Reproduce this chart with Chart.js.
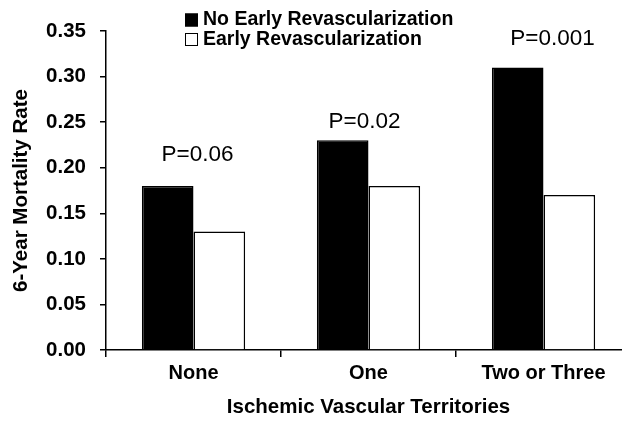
<!DOCTYPE html>
<html>
<head>
<meta charset="utf-8">
<script src="https://cdn.jsdelivr.net/npm/chart.js@4.4.0/dist/chart.umd.min.js"></script>
<style>
html, body { margin: 0; padding: 0; background: #fff; overflow: hidden; }
#wrap { width: 632px; height: 425px; }
</style>
</head>
<body>
<div id="wrap"><canvas id="myChart" width="632" height="425"></canvas></div>
<script>
// data
const categories = ["None", "One", "Two or Three"];
const seriesNames = ["No Early Revascularization", "Early Revascularization"];
const noEarlyRevasc = [0.18, 0.23, 0.31];
const earlyRevasc = [0.13, 0.18, 0.17];
const pValues = ["P=0.06", "P=0.02", "P=0.001"];
const yTicks = [0, 0.05, 0.10, 0.15, 0.20, 0.25, 0.30, 0.35];

const FONT = '"Liberation Sans", Arial, sans-serif';

// little legend stacked in the top of the plot, like the scanned figure
const boxLegend = {
    id: 'boxLegend',
    afterDraw(chart, args, opts) {
        const ctx = chart.ctx;
        ctx.save();
        ctx.font = opts.font;
        ctx.textBaseline = 'middle';
        ctx.textAlign = 'left';
        chart.data.datasets.forEach((ds, i) => {
            const y = opts.y + i * opts.rowGap;
            ctx.fillStyle = ds.backgroundColor;
            ctx.fillRect(opts.x, y - opts.box / 2, opts.box, opts.box);
            ctx.strokeStyle = '#000';
            ctx.lineWidth = 1;
            ctx.strokeRect(opts.x + 0.5, y - opts.box / 2 + 0.5, opts.box - 1, opts.box - 1);
            ctx.fillStyle = '#000';
            ctx.fillText(ds.label, opts.x + opts.box + opts.gap, y);
        });
        ctx.restore();
    }
};

// P value over each group
const pLabels = {
    id: 'pLabels',
    afterDatasetsDraw(chart, args, opts) {
        const ctx = chart.ctx;
        const m0 = chart.getDatasetMeta(0).data;
        const m1 = chart.getDatasetMeta(1).data;
        ctx.save();
        ctx.font = opts.font;
        ctx.fillStyle = '#000';
        ctx.textAlign = 'center';
        ctx.textBaseline = 'middle';
        pValues.forEach((txt, i) => {
            const cx = (m0[i].x + m1[i].x) / 2 + opts.dx[i];
            const top = Math.min(m0[i].y, m1[i].y);
            ctx.fillText(txt, cx, top + opts.dy[i]);
        });
        ctx.restore();
    }
};

const ctx = document.getElementById("myChart").getContext('2d');
const myChart = new Chart(ctx, {
    type: 'bar',
    data: {
        labels: categories,
        datasets: [{
            label: seriesNames[0],
            data: noEarlyRevasc,
            backgroundColor: '#000000',
            borderColor: '#000000',
            borderWidth: 1.5
        }, {
            label: seriesNames[1],
            data: earlyRevasc,
            backgroundColor: '#ffffff',
            borderColor: '#000000',
            borderWidth: 1.5
        }]
    },
    options: {
        responsive: false,
        animation: false,
        devicePixelRatio: 1,
        layout: { padding: { top: 31, right: 1, bottom: 0, left: 0 } },
        datasets: { bar: { barPercentage: 1, categoryPercentage: 0.59 } },
        plugins: {
            legend: { display: false },
            tooltip: { enabled: false },
            boxLegend: { x: 185, y: 20, rowGap: 19.5, box: 13, gap: 5, font: 'bold 19.5px ' + FONT },
            pLabels: { font: '22.5px ' + FONT, dx: [4, -4, 9], dy: [-31, -19, -29] }
        },
        scales: {
            x: {
                afterFit: (s) => { s.height = 75; },
                border: { color: '#000', width: 1.5 },
                grid: { drawOnChartArea: false, tickLength: 7, color: '#000', lineWidth: 1.5 },
                ticks: { color: '#000', padding: 4, font: { family: FONT, size: 20, weight: 'bold' } },
                title: {
                    display: true,
                    text: 'Ischemic Vascular Territories',
                    color: '#000',
                    font: { family: FONT, size: 20.5, weight: 'bold' },
                    padding: { top: 0, bottom: 5 }
                }
            },
            y: {
                min: 0,
                max: 0.35,
                afterFit: (s) => { s.width = 106; },
                afterBuildTicks: (s) => { s.ticks = yTicks.map(v => ({ value: v })); },
                border: { color: '#000', width: 1.5 },
                grid: { drawOnChartArea: false, tickLength: 6, color: '#000', lineWidth: 1.5 },
                ticks: {
                    color: '#000',
                    padding: 14,
                    font: { family: FONT, size: 20.5, weight: 'bold' },
                    callback: (v) => Number(v).toFixed(2)
                },
                title: {
                    display: true,
                    text: '6-Year Mortality Rate',
                    color: '#000',
                    font: { family: FONT, size: 20.5, weight: 'bold' },
                    padding: { top: 9, bottom: 0 }
                }
            }
        }
    },
    plugins: [boxLegend, pLabels]
});
</script>
</body>
</html>
